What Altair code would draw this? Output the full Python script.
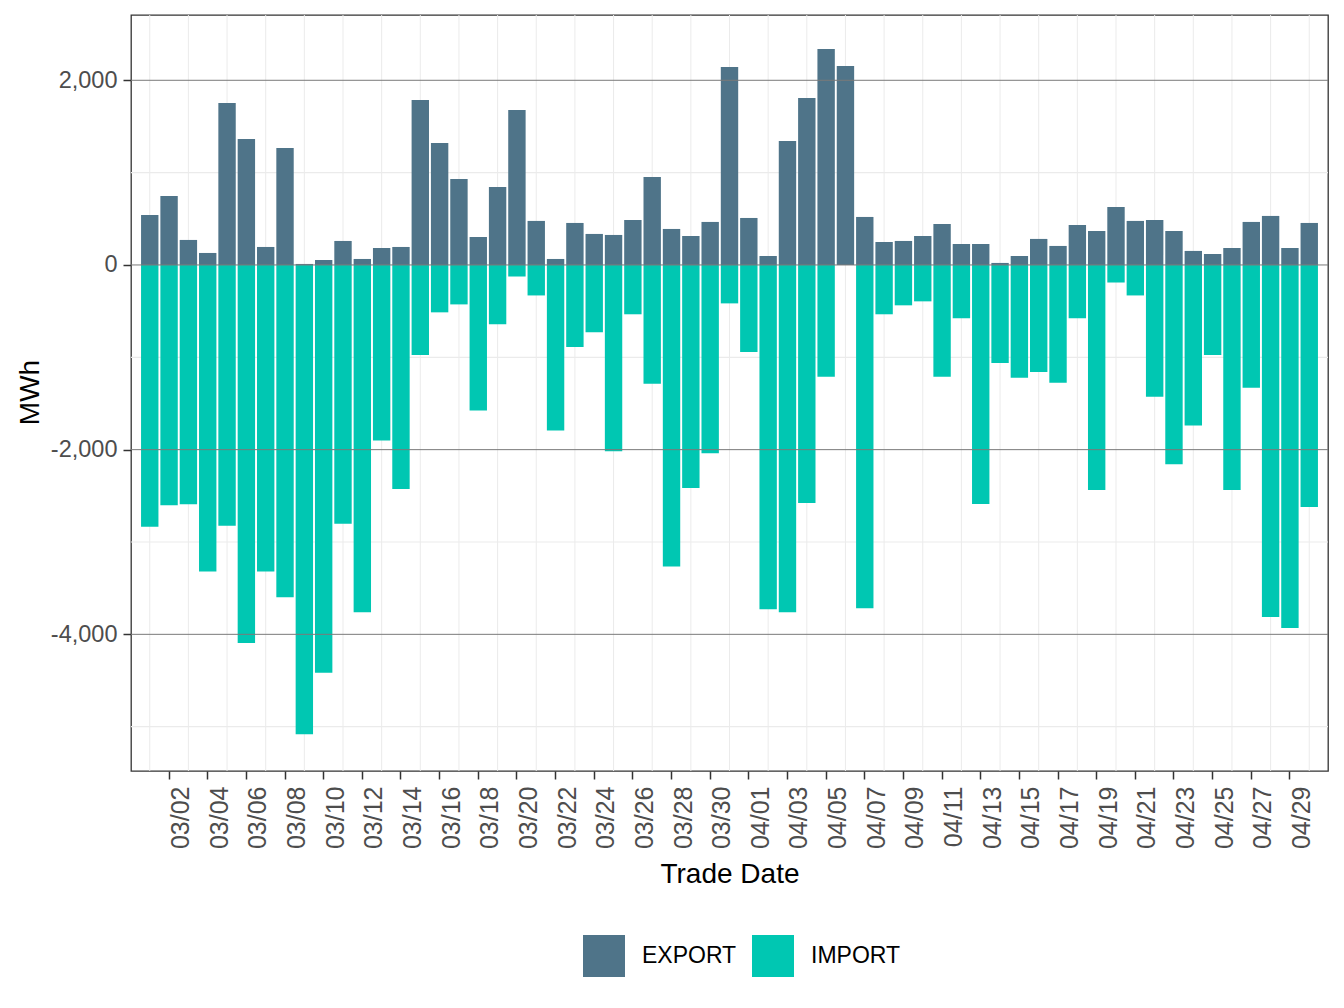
import altair as alt
import pandas as pd

# Trading days shown on the x axis (1 March - 30 April)
dates = pd.date_range("2023-03-01", "2023-04-30", freq="D")
day_labels = [d.strftime("%m/%d") for d in dates]

# Daily flows in MWh
export_mwh = [
    541, 747, 271, 130, 1754, 1365, 195, 1267, 11, 54,
    260, 65, 184, 195, 1787, 1321, 931, 303, 845, 1679,
    477, 65, 455, 336, 325, 487, 953, 390, 314, 466,
    2144, 509, 97, 1343, 1809, 2339, 2155, 520, 249, 260,
    314, 444, 227, 227, 22, 97, 282, 206, 433, 368,
    628, 477, 487, 368, 152, 119, 184, 466, 531, 184,
    455,
]
import_mwh = [
    -2835, -2602, -2591, -3319, -2824, -4093, -3319, -3598, -5082, -4415,
    -2803, -3760, -1900, -2426, -975, -513, -427, -1577, -642, -125,
    -330, -1792, -889, -728, -2018, -534, -1287, -3265, -2416, -2039,
    -416, -943, -3727, -3760, -2577, -1211, 0, -3717, -534, -437,
    -394, -1211, -577, -2588, -1061, -1222, -1158, -1276, -577, -2437,
    -190, -330, -1426, -2158, -1738, -975, -2437, -1330, -3813, -3932,
    -2620,
]

flow_types = ["EXPORT", "IMPORT"]
flow_colors = ["#4F7489", "#00C7B2"]

tick_days = day_labels[1::2]        # labelled every second day
minor_grid_days = day_labels[0::2]  # light grid between labelled days
major_y = [-4000, -2000, 0, 2000]
minor_y = [-5000, -3000, -1000, 1000]

W, H = 1197, 756
Y_DOMAIN = [-5480, 2707]

bars_df = pd.DataFrame({
    "Trade Date": day_labels * 2,
    "Flow": [flow_types[0]] * len(day_labels) + [flow_types[1]] * len(day_labels),
    "MWh": export_mwh + import_mwh,
})
vgrid_df = pd.DataFrame({"Trade Date": minor_grid_days})
hminor_df = pd.DataFrame({"MWh": minor_y})
hmajor_df = pd.DataFrame({"MWh": major_y})

x_scale = alt.Scale(paddingInner=0.1, paddingOuter=0.52)
y_scale = alt.Scale(domain=Y_DOMAIN, nice=False, zero=False)

x_axis = alt.Axis(
    values=tick_days,
    title="Trade Date",
    labelAngle=270,
    labelAlign="right",
    labelBaseline="top",
    labelPadding=7,
    labelFontSize=25,
    labelColor="#4d4d4d",
    tickSize=8,
    tickWidth=1.5,
    tickColor="#333333",
    domain=False,
    grid=False,
    titleFontSize=28,
    titleFontWeight="normal",
    titleColor="#000000",
    titleX=W / 2,
    titleY=111,
    titleAlign="center",
    titleBaseline="alphabetic",
)
y_axis = alt.Axis(
    values=major_y,
    labelExpr="replace(format(datum.value, ','), '\u2212', '-')",
    title="MWh",
    labelFontSize=23.5,
    labelColor="#4d4d4d",
    labelPadding=6,
    tickSize=8,
    tickWidth=1.5,
    tickColor="#333333",
    domain=False,
    grid=False,
    titleFontSize=28,
    titleFontWeight="normal",
    titleColor="#000000",
    titleAngle=270,
    titleX=-93,
    titleY=377,
    titleAlign="center",
    titleBaseline="alphabetic",
)

x_enc = alt.X("Trade Date:O", sort=day_labels, scale=x_scale, axis=x_axis)

vgrid = alt.Chart(vgrid_df).mark_rule(color="#ebebeb", strokeWidth=1).encode(
    x=x_enc,
    y=alt.value(0),
    y2=alt.value(H),
)

hminor = alt.Chart(hminor_df).mark_rule(color="#ebebeb", strokeWidth=1.2).encode(
    y=alt.Y("MWh:Q", scale=y_scale, axis=y_axis),
)

bars = alt.Chart(bars_df).mark_bar().encode(
    x=x_enc,
    y=alt.Y("MWh:Q", scale=y_scale, axis=y_axis, stack=None),
    color=alt.Color(
        "Flow:N",
        scale=alt.Scale(domain=flow_types, range=flow_colors),
        legend=alt.Legend(
            title=None,
            orient="none",
            legendX=452,
            legendY=920,
            direction="horizontal",
            symbolType="square",
            symbolSize=1764,
            symbolStrokeWidth=0,
            symbolOpacity=1,
            labelFontSize=23,
            labelColor="#000000",
            labelOffset=17,
            columnPadding=15,
            padding=0,
        ),
    ),
)

hmajor = alt.Chart(hmajor_df).mark_rule(color="#7a7a7a", strokeWidth=1).encode(
    y=alt.Y("MWh:Q", scale=y_scale, axis=y_axis),
)

chart = (
    alt.layer(vgrid, hminor, bars, hmajor)
    .properties(
        width=W,
        height=H,
        autosize=alt.AutoSizeParams(type="none"),
        padding={"left": 131, "top": 15, "right": 16, "bottom": 237},
        background="white",
    )
    .configure(font="Liberation Sans")
    .configure_view(stroke="#333333", strokeWidth=1.3)
)

chart.save("out.html", embed_options={"renderer": "svg", "actions": False})
